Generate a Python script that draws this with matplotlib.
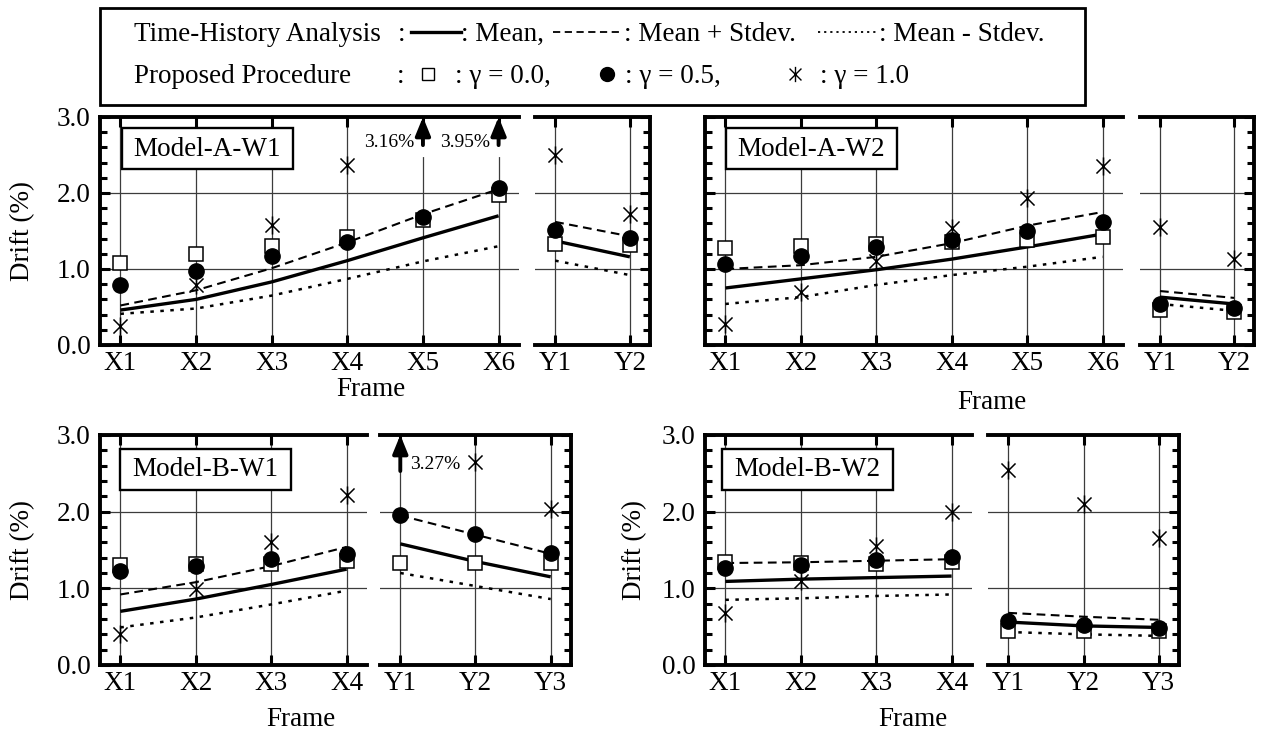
import numpy as np
import matplotlib.pyplot as plt
from matplotlib.path import Path
from matplotlib.lines import Line2D
from matplotlib.patches import Rectangle

plt.rcParams['font.family'] = ['Liberation Serif', 'DejaVu Serif']
FS = 19.5

# ---- data (drift %) ----
x6 = ['X1', 'X2', 'X3', 'X4', 'X5', 'X6']
x4 = ['X1', 'X2', 'X3', 'X4']
y2 = ['Y1', 'Y2']
y3 = ['Y1', 'Y2', 'Y3']

# Model-A-W1
aw1_x_mean = [0.46, 0.60, 0.83, 1.11, 1.41, 1.70]
aw1_x_plus = [0.52, 0.72, 1.01, 1.35, 1.72, 2.05]
aw1_x_minus = [0.41, 0.48, 0.65, 0.87, 1.10, 1.30]
aw1_x_g00 = [1.08, 1.20, 1.30, 1.42, 1.64, 1.98]
aw1_x_g05 = [0.79, 0.98, 1.17, 1.36, 1.68, 2.07]
aw1_x_g10 = [0.25, 0.79, 1.58, 2.37, 3.16, 3.95]
aw1_y_mean = [1.37, 1.16]
aw1_y_plus = [1.62, 1.43]
aw1_y_minus = [1.11, 0.92]
aw1_y_g00 = [1.33, 1.32]
aw1_y_g05 = [1.51, 1.41]
aw1_y_g10 = [2.50, 1.72]

# Model-A-W2
aw2_x_mean = [0.75, 0.87, 0.99, 1.13, 1.29, 1.46]
aw2_x_plus = [1.00, 1.05, 1.16, 1.34, 1.57, 1.75]
aw2_x_minus = [0.54, 0.63, 0.79, 0.92, 1.03, 1.16]
aw2_x_g00 = [1.28, 1.30, 1.33, 1.35, 1.38, 1.42]
aw2_x_g05 = [1.07, 1.17, 1.29, 1.38, 1.50, 1.62]
aw2_x_g10 = [0.28, 0.70, 1.10, 1.54, 1.93, 2.36]
aw2_y_mean = [0.63, 0.54]
aw2_y_plus = [0.71, 0.62]
aw2_y_minus = [0.54, 0.45]
aw2_y_g00 = [0.46, 0.43]
aw2_y_g05 = [0.54, 0.49]
aw2_y_g10 = [1.55, 1.13]

# Model-B-W1
bw1_x_mean = [0.70, 0.86, 1.05, 1.25]
bw1_x_plus = [0.92, 1.08, 1.29, 1.54]
bw1_x_minus = [0.49, 0.62, 0.79, 0.97]
bw1_x_g00 = [1.31, 1.32, 1.32, 1.36]
bw1_x_g05 = [1.22, 1.29, 1.38, 1.45]
bw1_x_g10 = [0.41, 0.99, 1.60, 2.22]
bw1_y_mean = [1.58, 1.35, 1.15]
bw1_y_plus = [1.95, 1.70, 1.45]
bw1_y_minus = [1.20, 1.03, 0.86]
bw1_y_g00 = [1.33, 1.33, 1.33]
bw1_y_g05 = [1.96, 1.71, 1.46]
bw1_y_g10 = [3.27, 2.65, 2.04]

# Model-B-W2
bw2_x_mean = [1.09, 1.12, 1.14, 1.16]
bw2_x_plus = [1.33, 1.34, 1.36, 1.38]
bw2_x_minus = [0.85, 0.87, 0.90, 0.92]
bw2_x_g00 = [1.34, 1.33, 1.32, 1.34]
bw2_x_g05 = [1.27, 1.31, 1.37, 1.41]
bw2_x_g10 = [0.68, 1.10, 1.55, 2.00]
bw2_y_mean = [0.56, 0.51, 0.49]
bw2_y_plus = [0.68, 0.63, 0.59]
bw2_y_minus = [0.43, 0.40, 0.38]
bw2_y_g00 = [0.45, 0.44, 0.44]
bw2_y_g05 = [0.57, 0.52, 0.48]
bw2_y_g10 = [2.55, 2.10, 1.66]

W, H = 1261, 733
fig = plt.figure(figsize=(W / 100, H / 100), dpi=100)


def fx(p):
    return p / W


def fy(p):
    return 1 - p / H


star = Path([(0, -1), (0, 1), (-0.78, -0.78), (0.78, 0.78), (-0.78, 0.78), (0.78, -0.78)],
            [Path.MOVETO, Path.LINETO] * 3)

DASH = (0, (4.2, 2.6))
DOT = (0, (1.4, 2.6))


def make_axes(l, r, t, b, labels, side, ylabels=True):
    ax = fig.add_axes([fx(l), fy(b), fx(r - l), (b - t) / H])
    n = len(labels)
    ax.set_xlim(-0.27, n - 1 + 0.27)
    ax.set_ylim(0, 3)
    ax.set_xticks(range(n))
    ax.set_xticklabels(labels, fontsize=FS)
    ax.set_yticks([0, 1, 2, 3])
    ax.set_yticks(np.arange(0, 3.01, 0.2), minor=True)
    ax.yaxis.set_major_formatter('{x:.1f}')
    ax.grid(True, which='major', color='#3c3c3c', lw=0.9)
    ax.set_axisbelow(True)
    ax.tick_params(axis='x', which='major', direction='in', top=True, bottom=True,
                   length=7, width=2.2, pad=4, labelsize=FS)
    ax.tick_params(axis='y', which='major', direction='in', length=7, width=2.2, pad=7,
                   labelsize=FS)
    ax.tick_params(axis='y', which='minor', direction='in', length=5, width=2.2)
    for s in ax.spines.values():
        s.set_linewidth(2.8)
    if side == 'x':
        ax.spines['right'].set_visible(False)
        ax.tick_params(axis='y', which='both', left=True, right=False, labelleft=ylabels)
    else:
        ax.spines['left'].set_visible(False)
        ax.tick_params(axis='y', which='both', left=False, right=True,
                       labelleft=False, labelright=False)
    return ax


def draw(ax, mean, plus, minus, g00, g05, g10, note_side='left'):
    x = np.arange(len(mean))
    ax.plot(x, mean, color='k', lw=2.4, zorder=3, solid_capstyle='butt')
    ax.plot(x, plus, color='k', lw=1.5, ls=DASH, zorder=3)
    ax.plot(x, minus, color='k', lw=1.8, ls=DOT, zorder=3)
    ax.plot(x, g00, ls='none', marker='s', ms=9.5, mfc='white', mec='k', mew=1.1, zorder=4)
    ax.plot(x, g05, ls='none', marker='o', ms=11, mfc='k', mec='k', zorder=5)
    g = np.array(g10, dtype=float)
    g[g > 3] = np.nan
    ax.plot(x, g, ls='none', marker=star, ms=13, mfc='none', mec='k', mew=1.1, zorder=6)
    for xi, v in zip(x, g10):
        if v <= 3:
            continue
        tail = 2.53 if note_side == 'right' else 2.63
        ax.annotate('', xy=(xi, 3.0), xytext=(xi, tail),
                    arrowprops=dict(arrowstyle='-|>,head_length=1.1,head_width=0.45',
                                    lw=2.8, color='k', shrinkA=0, shrinkB=0),
                    annotation_clip=False, zorder=7)
        if note_side == 'left':
            ax.plot([xi, xi], [2.5, 2.62], color='white', lw=3, zorder=1)
            ax.text(xi - 0.11, 2.67, f'{v:.2f}%', ha='right', va='center', fontsize=14, zorder=7)
        else:
            ax.text(xi + 0.13, 2.61, f'{v:.2f}%', ha='left', va='center', fontsize=14, zorder=7)


def model_box(ax, l, t, name):
    ax.add_patch(Rectangle((fx(l), fy(t + 41)), fx(171), 41 / H, transform=fig.transFigure,
                           fc='white', ec='k', lw=1.7, zorder=8, clip_on=False))
    ax.text(fx(l + 85.5), fy(t + 21), name, transform=fig.transFigure, ha='center',
            va='center', fontsize=FS, zorder=9)


# ---- top row ----
a = make_axes(100, 519, 117, 345, x6, 'x')
draw(a, aw1_x_mean, aw1_x_plus, aw1_x_minus, aw1_x_g00, aw1_x_g05, aw1_x_g10)
model_box(a, 122, 128, 'Model-A-W1')
a = make_axes(535, 650, 117, 345, y2, 'y')
draw(a, aw1_y_mean, aw1_y_plus, aw1_y_minus, aw1_y_g00, aw1_y_g05, aw1_y_g10)

a = make_axes(705, 1123, 117, 345, x6, 'x', ylabels=False)
draw(a, aw2_x_mean, aw2_x_plus, aw2_x_minus, aw2_x_g00, aw2_x_g05, aw2_x_g10)
model_box(a, 726, 128, 'Model-A-W2')
a = make_axes(1140, 1254, 117, 345, y2, 'y')
draw(a, aw2_y_mean, aw2_y_plus, aw2_y_minus, aw2_y_g00, aw2_y_g05, aw2_y_g10)

# ---- bottom row ----
a = make_axes(100, 367, 435, 665, x4, 'x')
draw(a, bw1_x_mean, bw1_x_plus, bw1_x_minus, bw1_x_g00, bw1_x_g05, bw1_x_g10)
model_box(a, 120, 449, 'Model-B-W1')
a = make_axes(380, 571, 435, 665, y3, 'y')
draw(a, bw1_y_mean, bw1_y_plus, bw1_y_minus, bw1_y_g00, bw1_y_g05, bw1_y_g10, note_side='right')

a = make_axes(705, 972, 435, 665, x4, 'x')
draw(a, bw2_x_mean, bw2_x_plus, bw2_x_minus, bw2_x_g00, bw2_x_g05, bw2_x_g10)
model_box(a, 722, 449, 'Model-B-W2')
a = make_axes(988, 1179, 435, 665, y3, 'y')
draw(a, bw2_y_mean, bw2_y_plus, bw2_y_minus, bw2_y_g00, bw2_y_g05, bw2_y_g10)

# axis titles
for xp, yp in [(371, 396), (992, 409), (301, 726), (913, 726)]:
    fig.text(fx(xp), fy(yp), 'Frame', ha='center', va='baseline', fontsize=FS)
for xp, yp in [(23, 231), (23, 550), (635, 550)]:
    fig.text(fx(xp), fy(yp), 'Drift (%)', rotation=90, ha='center', va='center', fontsize=FS)

# ---- legend box ----
fig.add_artist(Rectangle((fx(100), fy(105)), fx(985), 97 / H, transform=fig.transFigure,
                         fc='white', ec='k', lw=2))
r1, r2 = 41, 83
fig.text(fx(134), fy(r1), 'Time-History Analysis', va='baseline', fontsize=FS)
fig.text(fx(398), fy(r1), ':', va='baseline', fontsize=FS)
fig.add_artist(Line2D([fx(411), fx(461)], [fy(r1 - 9)] * 2, color='k', lw=2.4))
fig.text(fx(461), fy(r1), ': Mean,', va='baseline', fontsize=FS)
fig.add_artist(Line2D([fx(553), fx(622)], [fy(r1 - 9)] * 2, color='k', lw=1.3, ls=(0, (4, 2.5))))
fig.text(fx(624), fy(r1), ': Mean + Stdev.', va='baseline', fontsize=FS)
fig.add_artist(Line2D([fx(818), fx(878)], [fy(r1 - 9)] * 2, color='k', lw=1.3, ls=(0, (1.2, 2.2))))
fig.text(fx(879), fy(r1), ': Mean - Stdev.', va='baseline', fontsize=FS)

fig.text(fx(134), fy(r2), 'Proposed Procedure', va='baseline', fontsize=FS)
fig.text(fx(397), fy(r2), ':', va='baseline', fontsize=FS)
fig.add_artist(Line2D([fx(428)], [fy(r2 - 9)], marker='s', ms=8, mfc='white', mec='k', mew=1))
fig.text(fx(455), fy(r2), ': \u03b3 = 0.0,', va='baseline', fontsize=FS)
fig.add_artist(Line2D([fx(607)], [fy(r2 - 9)], marker='o', ms=10, mfc='k', mec='k'))
fig.text(fx(625), fy(r2), ': \u03b3 = 0.5,', va='baseline', fontsize=FS)
fig.add_artist(Line2D([fx(795)], [fy(r2 - 9)], marker=star, ms=11, mfc='none', mec='k', mew=1))
fig.text(fx(820), fy(r2), ': \u03b3 = 1.0', va='baseline', fontsize=FS)

fig.savefig('out.png', dpi=100)
